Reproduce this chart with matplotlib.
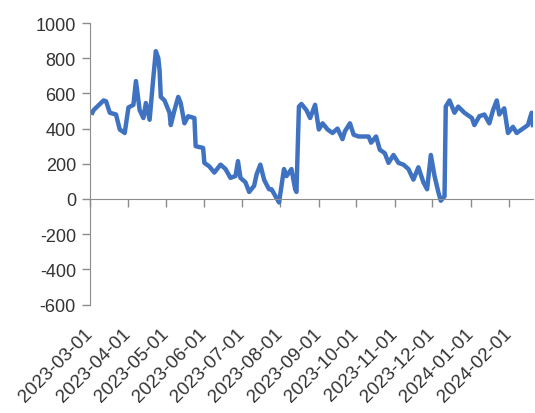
import matplotlib
matplotlib.use("Agg")
import matplotlib.pyplot as plt
import matplotlib.dates as mdates
import pandas as pd

dates = [
    "2023-03-03", "2023-03-04", "2023-03-12", "2023-03-14", "2023-03-17", "2023-03-22",
    "2023-03-25", "2023-03-29", "2023-04-01", "2023-04-05", "2023-04-07", "2023-04-10",
    "2023-04-13", "2023-04-15", "2023-04-18", "2023-04-21", "2023-04-23", "2023-04-25",
    "2023-04-26", "2023-04-27", "2023-04-30", "2023-05-04", "2023-05-05", "2023-05-08",
    "2023-05-11", "2023-05-13", "2023-05-16", "2023-05-19", "2023-05-24", "2023-05-25",
    "2023-05-31", "2023-06-01", "2023-06-05", "2023-06-09", "2023-06-14", "2023-06-18",
    "2023-06-22", "2023-06-26", "2023-06-28", "2023-06-30", "2023-07-04", "2023-07-07",
    "2023-07-11", "2023-07-13", "2023-07-16", "2023-07-19", "2023-07-20", "2023-07-23",
    "2023-07-25", "2023-07-31", "2023-08-04", "2023-08-06", "2023-08-10", "2023-08-13",
    "2023-08-14", "2023-08-16", "2023-08-18", "2023-08-22", "2023-08-25", "2023-08-29",
    "2023-09-01", "2023-09-04", "2023-09-08", "2023-09-12", "2023-09-16", "2023-09-20",
    "2023-09-22", "2023-09-26", "2023-09-29", "2023-10-03", "2023-10-11", "2023-10-13",
    "2023-10-17", "2023-10-20", "2023-10-24", "2023-10-27", "2023-10-31", "2023-11-04",
    "2023-11-08", "2023-11-12", "2023-11-16", "2023-11-20", "2023-11-24", "2023-11-27",
    "2023-11-30", "2023-12-03", "2023-12-06", "2023-12-08", "2023-12-11", "2023-12-12",
    "2023-12-15", "2023-12-19", "2023-12-22", "2023-12-27", "2024-01-02", "2024-01-04",
    "2024-01-08", "2024-01-12", "2024-01-16", "2024-01-19", "2024-01-22", "2024-01-24",
    "2024-01-28", "2024-01-31", "2024-02-04", "2024-02-07", "2024-02-11", "2024-02-16",
    "2024-02-19", "2024-02-20",
]
values = [
    490, 505, 560, 555, 490, 480,
    395, 375, 520, 535, 670, 505,
    460, 545, 450, 690, 840, 800,
    730, 580, 560, 490, 420, 505,
    580, 545, 430, 470, 460, 300,
    290, 205, 185, 150, 195, 170,
    120, 130, 215, 120, 95, 40,
    75, 140, 195, 110, 95, 55,
    55, -20, 170, 130, 170, 55,
    40, 525, 540, 505, 460, 535,
    395, 430, 395, 375, 400, 340,
    385, 430, 365, 355, 355, 320,
    355, 280, 260, 205, 250, 205,
    195, 170, 110, 180, 95, 55,
    250, 130, 40, -10, 15, 525,
    560, 490, 525, 490, 460, 420,
    470, 480, 430, 505, 560, 480,
    515, 375, 410, 375, 395, 420,
    490, 420,
]

month_ticks = pd.date_range("2023-03-01", "2024-02-01", freq="MS")

df = pd.DataFrame({"date": pd.to_datetime(dates), "value": values})

plt.rcParams["font.family"] = ["Liberation Sans", "DejaVu Sans"]
plt.rcParams["axes.unicode_minus"] = False

text_color = "#333333"
axis_color = "#8c8c8c"

fig = plt.figure(figsize=(5.35, 4.14), dpi=100)
ax = fig.add_axes([0.168, 0.262, 0.828, 0.68])

ax.plot(df["date"], df["value"], color="#3F73C2", linewidth=3.2, solid_joinstyle="round")

ax.set_ylim(-600, 1000)
ax.set_yticks(range(-600, 1001, 200))
ax.set_xlim(pd.Timestamp("2023-03-01") + pd.Timedelta(days=3), df["date"].iloc[-1])
ax.set_xticks(month_ticks)
ax.xaxis.set_major_formatter(mdates.DateFormatter("%Y-%m-%d"))

for s in ["top", "right"]:
    ax.spines[s].set_visible(False)
ax.spines["bottom"].set_position(("data", 0))
ax.spines["bottom"].set_color(axis_color)
ax.spines["left"].set_color(axis_color)

ax.tick_params(axis="y", length=6, width=1, color=axis_color, pad=4,
               labelsize=13, labelcolor=text_color)
ax.tick_params(axis="x", length=6, width=1, color=axis_color, pad=89,
               labelsize=13.5, labelcolor=text_color)
for lab in ax.get_xticklabels():
    lab.set_rotation(45)
    lab.set_ha("right")
    lab.set_va("center")
    lab.set_rotation_mode("anchor")

fig.savefig("out.png", dpi=100)
